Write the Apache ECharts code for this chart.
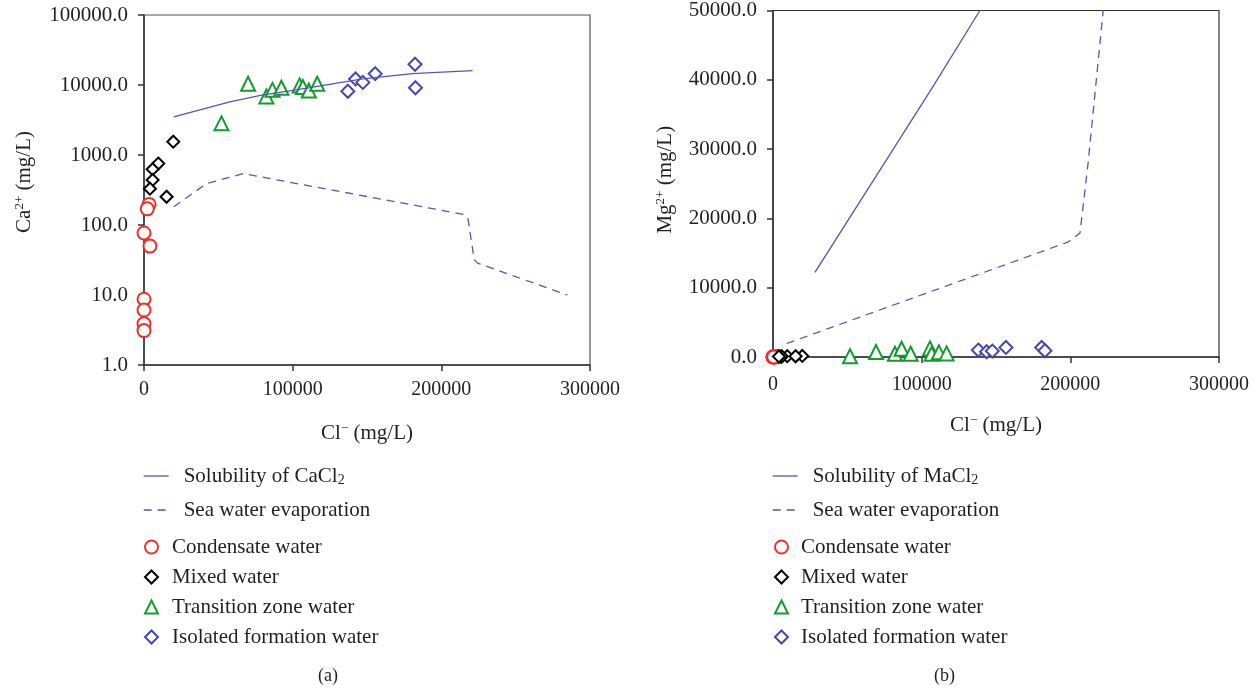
<!DOCTYPE html>
<html>
<head>
<meta charset="utf-8">
<script src="https://cdn.jsdelivr.net/npm/echarts@6/dist/echarts.min.js"></script>
<style>
  html, body { margin: 0; padding: 0; background: #fff; }
  #main { width: 1259px; height: 690px; }
</style>
</head>
<body>
<div id="main"></div>
<script>
// ---- data ----
// (a) Ca2+ vs Cl-
var caSolubility = [[20000, 3500], [57700, 5750], [80000, 7250], [102500, 8500], [147000, 12200], [180500, 14500], [221000, 16000]];
var caSeaWater = [[20000, 182], [42000, 390], [66700, 542], [215600, 141], [218000, 120], [222100, 32], [224400, 28.5], [284800, 10]];
var caCondensate = [[3400, 197], [2200, 170], [0, 77], [4000, 50], [0, 8.7], [0, 6.1], [0, 3.9], [0, 3.1]];
var caMixed = [[19700, 1550], [9600, 755], [5800, 627], [5800, 440], [4000, 330], [15200, 253]];
var caTransition = [[70000, 10400], [52100, 2830], [82300, 6860], [86400, 8520], [92400, 9130], [104700, 9870], [106900, 9330], [110900, 8320], [116500, 10400]];
var caIsolated = [[137100, 8150], [142300, 12200], [147200, 10900], [155500, 14500], [182300, 19800], [182600, 9130]];

// (b) Mg2+ vs Cl-
var mgSolubility = [[28200, 12200], [80900, 30000], [107800, 39100], [139200, 50000]];
var mgSeaWater = [[9200, 1950], [190800, 16000], [198600, 16600], [206500, 17900], [212000, 28100], [222100, 50000]];
var mgCondensate = [[3400, 60], [2200, 40], [0, 20], [4000, 30], [0, 10], [1000, 10], [0, 5], [500, 5]];
var mgMixed = [[19700, 150], [9600, 120], [5800, 100], [5800, 90], [4000, 80], [15200, 110]];
var mgTransition = [[51800, 100], [69300, 710], [82000, 470], [86500, 1190], [92600, 470], [105600, 1240], [106700, 470], [111600, 670], [116800, 520]];
var mgIsolated = [[138100, 1000], [143700, 760], [147500, 860], [156700, 1380], [180700, 1380], [182900, 900]];

var xTicks = [0, 100000, 200000, 300000];

var font = '"Liberation Serif", "DejaVu Serif", serif';
var txt = '#231f20';
var lineBlue = '#5555b8';

var rich = {
    sub: { fontSize: 14, lineHeight: 12, verticalAlign: 'bottom', fontFamily: font, color: txt },
    sup: { fontSize: 13, lineHeight: 13, verticalAlign: 'top', fontFamily: font, color: txt }
};

function xAxisCfg(gi, margin) {
    return {
        type: 'value', gridIndex: gi, min: xTicks[0], max: xTicks[3], interval: 100000,
        name: 'Cl{sup|\u2212} (mg/L)', nameLocation: 'middle', nameGap: 57,
        nameTextStyle: { fontFamily: font, fontSize: 21, color: txt, lineHeight: 22, rich: rich },
        axisLine: { lineStyle: { color: '#333', width: 1.5 } },
        axisTick: { length: 6, lineStyle: { color: '#333', width: 1.5 } },
        axisLabel: { fontFamily: font, fontSize: 20, color: txt, margin: margin, formatter: function (v) { return String(v); } },
        splitLine: { show: false }
    };
}

function yName(text, gap, lift) {
    return {
        name: text, nameLocation: 'middle', nameGap: gap,
        nameTextStyle: { fontFamily: font, fontSize: 21, color: txt, lineHeight: 22, padding: [0, 0, 0, lift], rich: rich }
    };
}

function legendLines(left, names) {
    return {
        left: left, top: 465, orient: 'vertical', padding: 0,
        itemWidth: 25, itemHeight: 14, itemGap: 12,
        data: names,
        itemStyle: { opacity: 0 },
        lineStyle: { width: 1.3 },
        formatter: function (n) { return n.replace(/l2$/, 'l{sub|2}'); },
        textStyle: { fontFamily: font, fontSize: 21, color: txt, lineHeight: 22, padding: [0, 0, 0, 10], rich: rich }
    };
}

function legendMarks(left, pad) {
    return {
        left: left, top: 536, orient: 'vertical', padding: 0,
        itemWidth: 13, itemHeight: 13, itemGap: 8,
        data: ['Condensate water', 'Mixed water', 'Transition zone water', 'Isolated formation water'],
        textStyle: { fontFamily: font, fontSize: 21, color: txt, lineHeight: 22, padding: [0, 0, 0, pad] }
    };
}

function lineSeries(name, gi, data, dashed) {
    return {
        name: name, type: 'line', xAxisIndex: gi, yAxisIndex: gi, data: data,
        symbol: 'none', clip: true,
        lineStyle: { color: lineBlue, width: 1.3, type: dashed ? [8, 6] : 'solid' },
        itemStyle: { color: lineBlue }
    };
}

function scatterSeries(name, gi, data, symbol, size, color) {
    return {
        name: name, type: 'scatter', xAxisIndex: gi, yAxisIndex: gi, data: data,
        symbol: symbol, symbolSize: size,
        itemStyle: { color: color, borderWidth: 1.4, opacity: 1 }
    };
}

var yLabel = { fontFamily: font, fontSize: 21, color: txt, margin: 16, formatter: function (v) { return v.toFixed(1); } };
var axisLine = { lineStyle: { color: '#333', width: 1.5 } };
var axisTick = { length: 6, lineStyle: { color: '#333', width: 1.5 } };

var option = {
    animation: false,
    backgroundColor: '#fff',
    grid: [
        { left: 144, top: 15, width: 446, height: 350, show: true, borderColor: '#555', borderWidth: 1.2, backgroundColor: 'transparent' },
        { left: 773, top: 7, width: 446, height: 350, show: true, borderColor: '#333', borderWidth: 1.2, backgroundColor: 'transparent' }
    ],
    xAxis: [xAxisCfg(0, 15), xAxisCfg(1, 18)],
    yAxis: [
        Object.assign({
            type: 'log', logBase: 10, gridIndex: 0, min: 1, max: 100000,
            axisLine: axisLine, axisTick: axisTick, axisLabel: yLabel,
            splitLine: { show: false }
        }, yName('Ca{sup|2+} (mg/L)', 109, 16)),
        Object.assign({
            type: 'value', gridIndex: 1, min: 0, max: 50000, interval: 10000,
            axisLine: axisLine, axisTick: axisTick, axisLabel: yLabel,
            splitLine: { show: false }
        }, yName('Mg{sup|2+} (mg/L)', 97, 8))
    ],
    legend: [
        legendLines(143, ['Solubility of CaCl2', 'Sea water evaporation']),
        legendMarks(144, 9),
        legendLines(772, ['Solubility of MaCl2', 'Sea water evaporation']),
        legendMarks(774, 8)
    ],
    graphic: [
        { type: 'text', left: 318, top: 667, style: { text: '(a)', font: '18px ' + font, fill: txt } },
        { type: 'text', left: 934, top: 667, style: { text: '(b)', font: '18px ' + font, fill: txt } }
    ],
    series: [
        lineSeries('Solubility of CaCl2', 0, caSolubility, false),
        lineSeries('Sea water evaporation', 0, caSeaWater, true),
        scatterSeries('Condensate water', 0, caCondensate, 'emptyCircle', 13, '#e8332a'),
        scatterSeries('Mixed water', 0, caMixed, 'emptyDiamond', 12, '#000'),
        scatterSeries('Transition zone water', 0, caTransition, 'emptyTriangle', 14, '#139b2e'),
        scatterSeries('Isolated formation water', 0, caIsolated, 'emptyDiamond', 13, '#4848b0'),

        lineSeries('Solubility of MaCl2', 1, mgSolubility, false),
        lineSeries('Sea water evaporation', 1, mgSeaWater, true),
        scatterSeries('Condensate water', 1, mgCondensate, 'emptyCircle', 13, '#e8332a'),
        scatterSeries('Mixed water', 1, mgMixed, 'emptyDiamond', 12, '#000'),
        scatterSeries('Transition zone water', 1, mgTransition, 'emptyTriangle', 14, '#139b2e'),
        scatterSeries('Isolated formation water', 1, mgIsolated, 'emptyDiamond', 13, '#4848b0')
    ]
};

var myChart = echarts.init(document.getElementById('main'));
myChart.setOption(option);
</script>
</body>
</html>
